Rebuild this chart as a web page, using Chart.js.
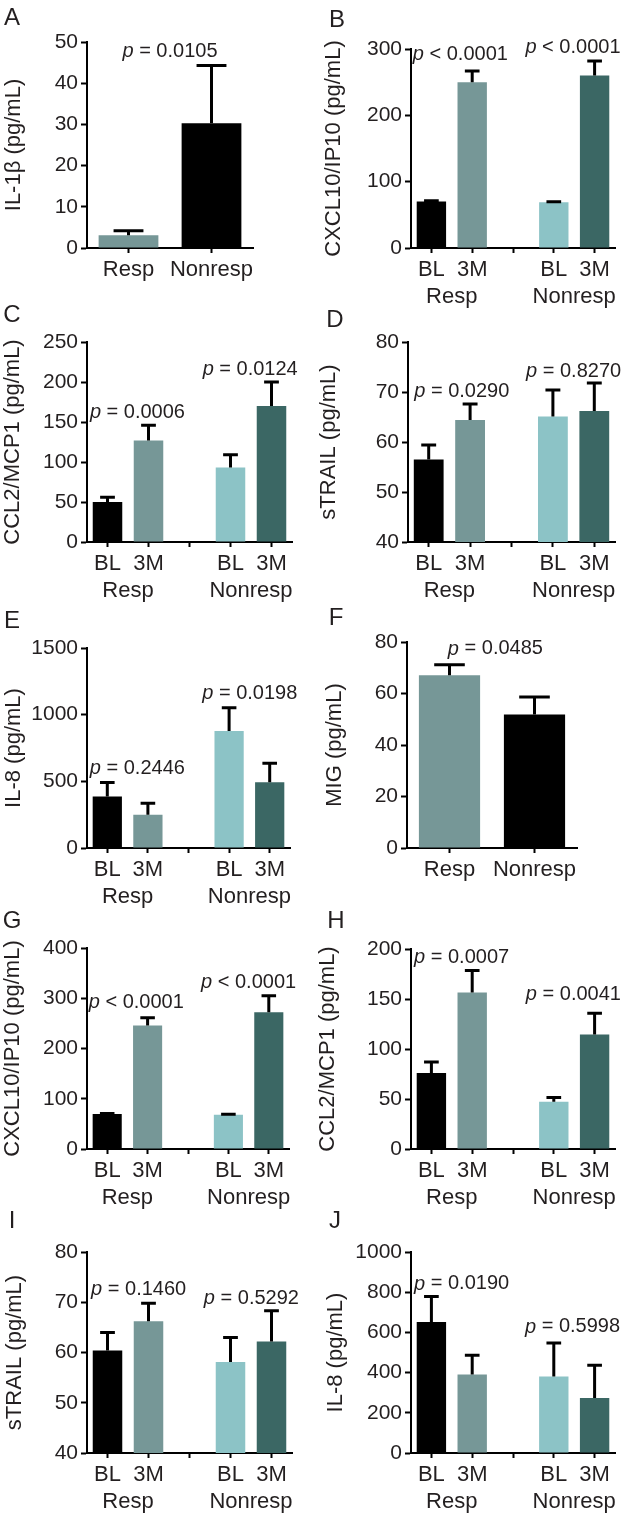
<!DOCTYPE html>
<html>
<head>
<meta charset="utf-8">
<script src="https://cdn.jsdelivr.net/npm/chart.js@4.4.1/dist/chart.umd.min.js"></script>
<style>
  html, body { margin: 0; padding: 0; background: #fff; }
  #fig { position: relative; width: 624px; height: 1514px; background: #fff; }
  #fig canvas { position: absolute; }
</style>
</head>
<body>
<div id="fig"></div>
<script>
// Category labels
const pairLabels = ['Resp', 'Nonresp'];
const timeLabels = ['BL', '3M', '', 'BL', '3M'];
const groupLabels = ['Resp', 'Nonresp'];

// Bar means and SEM, middle slot of 5-bar panels is the gap
const aMean = [3.1, 30.3];
const aSem = [1.1, 14.0];
const bMean = [70, 250, null, 69, 260];
const bSem = [1.2, 17, null, 0.8, 22];
const cMean = [50, 127, null, 93, 170];
const cSem = [6, 19, null, 16, 30];
const dMean = [56.5, 64.4, null, 65.1, 66.2];
const dSem = [2.9, 3.2, null, 5.3, 5.6];
const eMean = [386, 249, null, 877, 493];
const eSem = [105, 87, null, 175, 142];
const fMean = [67.1, 51.8];
const fSem = [4.1, 6.8];
const gMean = [69.7, 246, null, 68.3, 272];
const gSem = [0.8, 15, null, 0.9, 33];
const hMean = [75.9, 156.4, null, 47.3, 114.5];
const hSem = [11, 22, null, 4.3, 21.3];
const iMean = [60.4, 66.2, null, 58.1, 62.2];
const iSem = [3.6, 3.6, null, 4.9, 6.1];
const jMean = [652, 390, null, 380, 274];
const jSem = [127, 96, null, 167, 162];

// Y tick values
const aTicks = [0, 10, 20, 30, 40, 50];
const bTicks = [0, 100, 200, 300];
const cTicks = [0, 50, 100, 150, 200, 250];
const dTicks = [40, 50, 60, 70, 80];
const eTicks = [0, 500, 1000, 1500];
const fTicks = [0, 20, 40, 60, 80];
const gTicks = [0, 100, 200, 300, 400];
const hTicks = [0, 50, 100, 150, 200];
const iTicks = [40, 50, 60, 70, 80];
const jTicks = [0, 200, 400, 600, 800, 1000];

// p-value texts (the leading "p" is drawn in italics)
const aP = ['= 0.0105'];
const bP = ['< 0.0001', '< 0.0001'];
const cP = ['= 0.0006', '= 0.0124'];
const dP = ['= 0.0290', '= 0.8270'];
const eP = ['= 0.2446', '= 0.0198'];
const fP = ['= 0.0485'];
const gP = ['< 0.0001', '< 0.0001'];
const hP = ['= 0.0007', '= 0.0041'];
const iP = ['= 0.1460', '= 0.5292'];
const jP = ['= 0.0190', '= 0.5998'];

const BLACK = '#000000';
const RESP3M = '#769797';
const NONBL = '#8cc3c6';
const NON3M = '#3b6764';
const fourColors = [BLACK, RESP3M, 'rgba(0,0,0,0)', NONBL, NON3M];
const twoColors = [RESP3M, BLACK];

const FONT = '"Liberation Sans", Arial, Helvetica, sans-serif';
const TEXT = '#231f20';

// layout: cell = [x, y, w, h], area = [left, top, right, bottom] inside the cell
const panels = [
  { letter: 'A', letterAt: [12, 25], cell: [0, 0, 312, 310], area: [87, 42, 253, 248], title: 'IL-1β (pg/mL)', titleCx: 14,
    labels: pairLabels, mean: aMean, sem: aSem, ticks: aTicks, colors: twoColors, p: aP, notes: [[0.5, 47.6]] },
  { letter: 'B', letterAt: [25, 27], cell: [312, 0, 312, 310], area: [99, 49, 303, 248], title: 'CXCL10/IP10 (pg/mL)', titleCx: 22,
    labels: timeLabels, mean: bMean, sem: bSem, ticks: bTicks, colors: fourColors, p: bP, notes: [[0.71, 292], [3.47, 303]] },
  { letter: 'C', letterAt: [12, 22], cell: [0, 300, 312, 310], area: [87, 42, 292, 242], title: 'CCL2/MCP1 (pg/mL)', titleCx: 13,
    labels: timeLabels, mean: cMean, sem: cSem, ticks: cTicks, colors: fourColors, p: cP, notes: [[0.73, 162], [3.48, 216]] },
  { letter: 'D', letterAt: [23, 27], cell: [312, 300, 312, 310], area: [96, 42, 303, 242], title: 'sTRAIL (pg/mL)', titleCx: 17,
    labels: timeLabels, mean: dMean, sem: dSem, ticks: dTicks, colors: fourColors, p: dP, notes: [[0.8, 70.2], [3.5, 74.2]] },
  { letter: 'E', letterAt: [12, 28], cell: [0, 600, 312, 310], area: [87, 48, 290, 248], title: 'IL-8 (pg/mL)', titleCx: 14,
    labels: timeLabels, mean: eMean, sem: eSem, ticks: eTicks, colors: fourColors, p: eP, notes: [[0.74, 600], [3.51, 1162]] },
  { letter: 'F', letterAt: [24, 25], cell: [312, 600, 312, 310], area: [95, 42, 265, 248], title: 'MIG (pg/mL)', titleCx: 23,
    labels: pairLabels, mean: fMean, sem: fSem, ticks: fTicks, colors: twoColors, p: fP, notes: [[0.54, 77.3]] },
  { letter: 'G', letterAt: [12, 28], cell: [0, 900, 312, 310], area: [87, 48, 289, 249], title: 'CXCL10/IP10 (pg/mL)', titleCx: 13,
    labels: timeLabels, mean: gMean, sem: gSem, ticks: gTicks, colors: fourColors, p: gP, notes: [[0.72, 292], [3.5, 332]] },
  { letter: 'H', letterAt: [24, 28], cell: [312, 900, 312, 310], area: [99, 49, 303, 249], title: 'CCL2/MCP1 (pg/mL)', titleCx: 16,
    labels: timeLabels, mean: hMean, sem: hSem, ticks: hTicks, colors: fourColors, p: hP, notes: [[0.74, 192], [3.48, 155]] },
  { letter: 'I', letterAt: [12, 28], cell: [0, 1200, 312, 314], area: [87, 52, 292, 253], title: 'sTRAIL (pg/mL)', titleCx: 15,
    labels: timeLabels, mean: iMean, sem: iSem, ticks: iTicks, colors: fourColors, p: iP, notes: [[0.76, 72.6], [3.51, 70.8]] },
  { letter: 'J', letterAt: [23, 28], cell: [312, 1200, 312, 314], area: [99, 52, 303, 253], title: 'IL-8 (pg/mL)', titleCx: 24,
    labels: timeLabels, mean: jMean, sem: jSem, ticks: jTicks, colors: fourColors, p: jP, notes: [[0.74, 841], [3.46, 627]] }
];

// Upward SEM whiskers on every bar
const errorBars = {
  id: 'errorBars',
  afterDatasetsDraw(chart) {
    const sem = chart.options.plugins.errorBars.sem;
    const meta = chart.getDatasetMeta(0);
    const yScale = chart.scales.y;
    const ctx = chart.ctx;
    ctx.save();
    ctx.strokeStyle = '#000';
    ctx.lineWidth = 3;
    meta.data.forEach((bar, i) => {
      const v = chart.data.datasets[0].data[i];
      if (v == null || sem[i] == null) return;
      const yTop = yScale.getPixelForValue(v + sem[i]);
      const half = bar.width * 0.25;
      ctx.beginPath();
      ctx.moveTo(bar.x, bar.y);
      ctx.lineTo(bar.x, yTop);
      ctx.moveTo(bar.x - half, yTop);
      ctx.lineTo(bar.x + half, yTop);
      ctx.stroke();
    });
    ctx.restore();
  }
};

// Panel letter, group labels and p-values
const annotations = {
  id: 'annotations',
  afterDraw(chart) {
    const opts = chart.options.plugins.annotations;
    const ctx = chart.ctx;
    const xs = chart.scales.x, ys = chart.scales.y;
    const area = chart.chartArea;
    ctx.save();
    ctx.fillStyle = TEXT;

    ctx.font = '24px ' + FONT;
    ctx.textAlign = 'center';
    ctx.textBaseline = 'alphabetic';
    ctx.fillText(opts.letter, opts.letterAt[0], opts.letterAt[1]);

    ctx.font = '22px ' + FONT;
    ctx.textBaseline = 'middle';
    if (chart.data.labels.length === 5) {
      groupLabels.forEach((g, k) => {
        const x = (xs.getPixelForValue(k * 3) + xs.getPixelForValue(k * 3 + 1)) / 2;
        ctx.fillText(g, x, area.bottom + 49);
      });
    }

    opts.notes.forEach((n, k) => {
      const rest = ' ' + opts.p[k];
      ctx.font = 'italic 20px ' + FONT;
      const wp = ctx.measureText('p').width;
      ctx.font = '20px ' + FONT;
      const wr = ctx.measureText(rest).width;
      const cx = xs.getPixelForValue(n[0]);
      const cy = ys.getPixelForValue(n[1]);
      const x0 = cx - (wp + wr) / 2;
      ctx.textAlign = 'left';
      ctx.font = 'italic 20px ' + FONT;
      ctx.fillText('p', x0, cy);
      ctx.font = '20px ' + FONT;
      ctx.fillText(rest, x0 + wp, cy);
    });
    ctx.restore();
  }
};

function makePanel(p) {
  const cv = document.createElement('canvas');
  cv.width = p.cell[2];
  cv.height = p.cell[3];
  cv.style.left = p.cell[0] + 'px';
  cv.style.top = p.cell[1] + 'px';
  cv.style.width = p.cell[2] + 'px';
  cv.style.height = p.cell[3] + 'px';
  document.getElementById('fig').appendChild(cv);

  const [l, t, r, b] = p.area;
  const titleLine = 22 * 1.2;
  const tMin = p.ticks[0], tMax = p.ticks[p.ticks.length - 1];

  new Chart(cv, {
    type: 'bar',
    data: {
      labels: p.labels,
      datasets: [{
        data: p.mean,
        backgroundColor: p.colors,
        borderWidth: 0,
        barPercentage: 0.72,
        categoryPercentage: 1
      }]
    },
    options: {
      responsive: false,
      animation: false,
      devicePixelRatio: 1,
      layout: { padding: { left: 0, top: t, right: p.cell[2] - r, bottom: 0 } },
      plugins: {
        legend: { display: false },
        tooltip: { enabled: false },
        errorBars: { sem: p.sem },
        annotations: { letter: p.letter, letterAt: p.letterAt, notes: p.notes, p: p.p }
      },
      scales: {
        x: {
          offset: true,
          grid: { offset: false, drawOnChartArea: false, tickLength: 5, tickWidth: 2, tickColor: '#000' },
          border: { display: true, color: '#000', width: 2 },
          ticks: { color: TEXT, font: { size: 22, family: FONT }, padding: 4, maxRotation: 0, autoSkip: false },
          afterFit: (s) => { s.height = p.cell[3] - b; }
        },
        y: {
          min: tMin,
          max: tMax,
          grid: { drawOnChartArea: false, tickLength: 6, tickWidth: 2, tickColor: '#000' },
          border: { display: true, color: '#000', width: 2 },
          ticks: {
            color: TEXT,
            font: { size: 21, family: FONT },
            padding: 3,
            stepSize: p.ticks[1] - p.ticks[0],
            callback: (v) => String(v)
          },
          afterBuildTicks: (s) => { s.ticks = p.ticks.map(v => ({ value: v })); },
          title: {
            display: true,
            text: p.title,
            color: TEXT,
            font: { size: 22, family: FONT },
            padding: { top: p.titleCx - titleLine / 2, bottom: 0 }
          },
          afterFit: (s) => { s.width = l; }
        }
      }
    },
    plugins: [errorBars, annotations]
  });
}

panels.forEach(makePanel);
</script>
</body>
</html>
